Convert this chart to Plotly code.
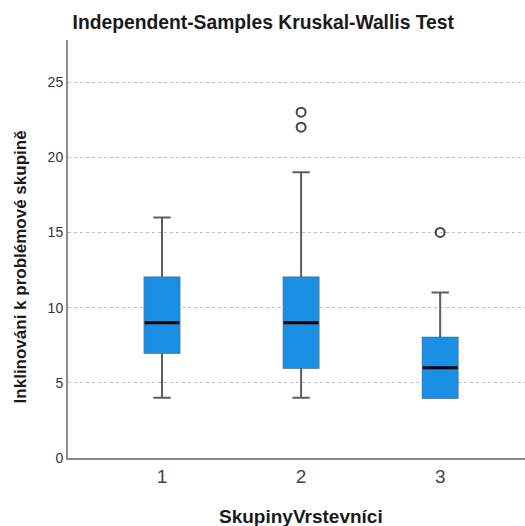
import plotly.graph_objects as go

groups = [1, 2, 3]
q1 = [7, 6, 4]
median = [9, 9, 6]
q3 = [12, 12, 8]
lower = [4, 4, 4]
upper = [16, 19, 11]
outlier_x = [2, 2, 3]
outlier_y = [22, 23, 15]

blue = "#1a8fe3"
grey = "#5f5f5f"
title_font = "Liberation Sans, Arial, sans-serif"

fig = go.Figure()
# whiskers (grey)
fig.add_trace(go.Box(x=groups, q1=q1, median=median, q3=q3, lowerfence=lower, upperfence=upper,
                     width=0.25, whiskerwidth=0.5, line=dict(color=grey, width=2),
                     fillcolor=blue, boxpoints=False, hoverinfo="skip"))
# box body (blue)
fig.add_trace(go.Box(x=groups, q1=q1, median=median, q3=q3, lowerfence=q1, upperfence=q3,
                     width=0.25, whiskerwidth=0, line=dict(color=blue, width=1),
                     fillcolor=blue, boxpoints=False, hoverinfo="skip"))
# median line (black)
fig.add_trace(go.Box(x=groups, q1=median, median=median, q3=median, lowerfence=median, upperfence=median,
                     width=0.25, whiskerwidth=0, line=dict(color="black", width=3),
                     fillcolor="black", boxpoints=False, hoverinfo="skip"))
# outliers
fig.add_trace(go.Scatter(x=outlier_x, y=outlier_y, mode="markers",
                         marker=dict(symbol="circle-open", size=9, color="#444444", line=dict(width=2))))

fig.update_layout(
    width=525, height=526, showlegend=False, boxmode="overlay",
    plot_bgcolor="white", paper_bgcolor="white",
    margin=dict(l=68, r=0, t=40, b=68),
    font=dict(family="Liberation Sans, Arial, sans-serif", color="#333333"),
    title=dict(text="<b>Independent-Samples Kruskal-Wallis Test</b>", x=0.01, xref="paper", xanchor="left",
               y=0.958, yanchor="middle", font=dict(family=title_font, size=19.3, color="#1a1a1a")),
    xaxis=dict(range=[0.324, 3.61], tickmode="array", tickvals=groups, ticktext=[str(g) for g in groups],
               showgrid=False, zeroline=False, showline=True, linecolor="#8c8c8c", linewidth=2,
               tickfont=dict(size=19, color="#444444"), ticklen=0),
    yaxis=dict(range=[0, 27.8], tickvals=[0, 5, 10, 15, 20, 25], showgrid=True, gridcolor="#c0c0c0",
               griddash="3px,3px", gridwidth=1, zeroline=False, showline=True, linecolor="#8c8c8c", linewidth=2,
               tickfont=dict(size=14, color="#333333"), ticklen=0),
    annotations=[
        dict(text="<b>SkupinyVrstevníci</b>", xref="paper", yref="paper", x=0.51, y=-0.141,
             xanchor="center", yanchor="middle", showarrow=False,
             font=dict(family=title_font, size=19, color="#1a1a1a")),
        dict(text="<b>Inklinováni k problémové skupině</b>", xref="paper", yref="paper", x=-0.105, y=0.456,
             xanchor="center", yanchor="middle", textangle=-90, showarrow=False,
             font=dict(family=title_font, size=17, color="#1a1a1a")),
    ],
)
fig.write_html("out.html")
